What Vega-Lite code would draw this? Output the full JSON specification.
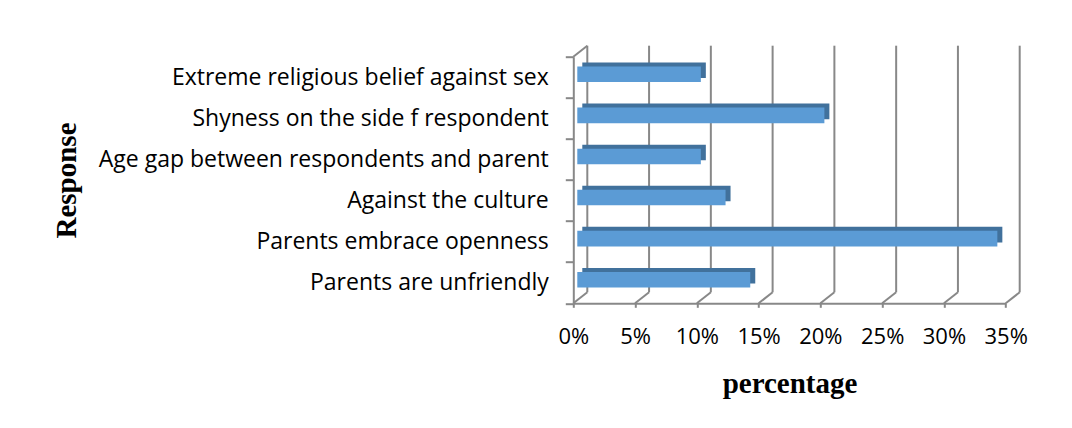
{
  "$schema": "https://vega.github.io/schema/vega-lite/v6.json",
  "width": 432.4,
  "height": 246.6,
  "autosize": "none",
  "padding": {"left": 573.3, "top": 56.7, "right": 66.3, "bottom": 124.7},
  "background": "white",
  "config": {
    "view": {"stroke": null},
    "font": "Open Sans",
    "axisX": {
      "values": [0, 0.05, 0.10, 0.15, 0.20, 0.25, 0.30, 0.35],
      "format": ".0%",
      "grid": false,
      "domainColor": "#888888", "domainWidth": 2,
      "tickColor": "#888888", "tickWidth": 2, "tickSize": 4,
      "labelFont": "Open Sans", "labelFontSize": 22, "labelColor": "#000000", "labelPadding": 19,
      "labelFlush": false, "labelOverlap": false,
      "titleFont": "Liberation Serif", "titleFontSize": 29, "titleFontWeight": "bold", "titleColor": "#000000",
      "titleY": 89, "titleBaseline": "alphabetic"
    }
  },
  "datasets": {
    "bars": [
      {"response": "Extreme religious belief against sex", "pct": 0.10},
      {"response": "Shyness on the side f respondent", "pct": 0.20},
      {"response": "Age gap between respondents and parent", "pct": 0.10},
      {"response": "Against the culture", "pct": 0.12},
      {"response": "Parents embrace openness", "pct": 0.34},
      {"response": "Parents are unfriendly", "pct": 0.14}
    ],
    "ticks": [
      {"t": 0}, {"t": 0.05}, {"t": 0.10}, {"t": 0.15},
      {"t": 0.20}, {"t": 0.25}, {"t": 0.30}, {"t": 0.35}
    ]
  },
  "resolve": {"scale": {"y": "independent"}, "axis": {"x": "shared"}},
  "layer": [
    {
      "data": {"name": "ticks"},
      "mark": {"type": "rule", "color": "#888888", "strokeWidth": 2, "xOffset": 14, "x2Offset": 14, "yOffset": -11, "y2Offset": -11},
      "encoding": {
        "x": {"field": "t", "type": "quantitative", "scale": {"domain": [0, 0.35], "nice": false}, "title": "percentage"},
        "y": {"datum": 0, "type": "quantitative", "scale": {"domain": [0, 1]}, "axis": null},
        "y2": {"datum": 1}
      }
    },
    {
      "data": {"name": "ticks"},
      "mark": {"type": "rule", "color": "#888888", "strokeWidth": 2, "x2Offset": 14, "y2Offset": -11},
      "encoding": {
        "x": {"field": "t", "type": "quantitative", "scale": {"domain": [0, 0.35], "nice": false}, "title": "percentage"},
        "x2": {"field": "t"},
        "y": {"datum": 0, "type": "quantitative", "scale": {"domain": [0, 1]}, "axis": null},
        "y2": {"datum": 0}
      }
    },
    {
      "data": {"values": [{"t": 0}]},
      "mark": {"type": "rule", "color": "#888888", "strokeWidth": 2, "x2Offset": 14, "y2Offset": -11},
      "encoding": {
        "x": {"field": "t", "type": "quantitative", "scale": {"domain": [0, 0.35], "nice": false}, "title": "percentage"},
        "x2": {"field": "t"},
        "y": {"datum": 1, "type": "quantitative", "scale": {"domain": [0, 1]}, "axis": null},
        "y2": {"datum": 1}
      }
    },
    {
      "data": {"name": "bars"},
      "mark": {"type": "bar", "color": "#41719c", "height": {"band": 0.38}, "xOffset": 9, "x2Offset": 9, "yOffset": -7, "y2Offset": -7},
      "encoding": {
        "x": {"field": "pct", "type": "quantitative", "scale": {"domain": [0, 0.35], "nice": false}, "title": "percentage"},
        "y": {"field": "response", "type": "nominal", "sort": null, "scale": {"paddingInner": 0, "paddingOuter": 0}, "axis": null}
      }
    },
    {
      "data": {"name": "bars"},
      "mark": {"type": "bar", "color": "#5b9bd5", "height": {"band": 0.38}, "xOffset": 4, "x2Offset": 4, "yOffset": -3, "y2Offset": -3},
      "encoding": {
        "x": {"field": "pct", "type": "quantitative", "scale": {"domain": [0, 0.35], "nice": false}, "title": "percentage"},
        "y": {
          "field": "response", "type": "nominal", "sort": null,
          "scale": {"paddingInner": 0, "paddingOuter": 0},
          "axis": {
            "title": "Response",
            "tickBand": "extent",
            "domainColor": "#888888", "domainWidth": 2,
            "tickColor": "#888888", "tickWidth": 2, "tickSize": 8,
            "labelFont": "Open Sans", "labelFontSize": 23, "labelColor": "#000000", "labelPadding": 17,
            "labelLimit": 500,
            "titleFont": "Liberation Serif", "titleFontSize": 29, "titleFontWeight": "bold", "titleColor": "#000000",
            "titleAngle": -90, "titleX": -498, "titleY": 123.3, "titleAlign": "center", "titleBaseline": "alphabetic"
          }
        }
      }
    }
  ]
}
